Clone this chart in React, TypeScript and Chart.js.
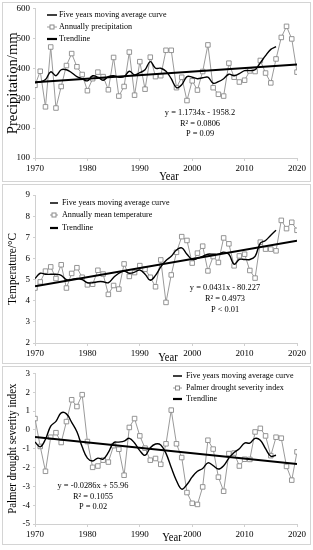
import React, { useEffect, useRef } from 'react';
import { Chart, registerables } from 'chart.js';

Chart.register(...registerables);

const FONT = '"Liberation Serif", "Times New Roman", serif';

const YEARS = [
  1970, 1971, 1972, 1973, 1974, 1975, 1976, 1977, 1978, 1979,
  1980, 1981, 1982, 1983, 1984, 1985, 1986, 1987, 1988, 1989,
  1990, 1991, 1992, 1993, 1994, 1995, 1996, 1997, 1998, 1999,
  2000, 2001, 2002, 2003, 2004, 2005, 2006, 2007, 2008, 2009,
  2010, 2011, 2012, 2013, 2014, 2015, 2016, 2017, 2018, 2019, 2020,
];
const TREND_YEARS = [1970, 2020];

const PRECIP = [
  343, 390, 271, 471, 267, 339, 409, 449, 405, 379,
  325, 365, 387, 372, 328, 436, 307, 339, 454, 310,
  422, 330, 437, 372, 375, 460, 460, 335, 370, 292,
  358, 327, 389, 478, 335, 313, 307, 417, 370, 354,
  360, 391, 389, 426, 384, 351, 431, 503, 540, 498, 387,
];
const PRECIP_MA = [
  352, 355, 362, 388, 375, 395, 395, 385, 372, 365,
  358, 375, 370, 360, 372, 375, 370, 372, 390, 378,
  385, 395, 422, 400, 400, 390, 365, 335, 345, 372,
  370, 365, 368, 370, 350, 355, 365, 380, 375, 382,
  392, 392, 395, 418, 442, 463, 472,
];
const PRECIP_TREND = [353.4, 412.1];

const TEMP = [
  4.6, 4.89, 5.4, 5.6, 5.05, 5.7, 4.6, 5.29, 5.56, 5.11,
  4.75, 4.78, 5.44, 5.26, 4.3, 4.72, 4.55, 5.74, 5.15, 5.33,
  5.66, 5.49, 5.11, 4.66, 5.93, 3.92, 5.22, 6.29, 7.03, 6.85,
  5.78, 6.25, 6.58, 5.41, 6.09, 5.81, 6.97, 6.69, 5.65, 6.12,
  6.2, 5.43, 5.07, 6.77, 6.44, 6.44, 6.36, 7.8, 7.41, 7.71, 7.33,
];
const TEMP_MA = [
  5.05, 5.3, 5.25, 5.25, 5.25, 5.2, 5.0, 5.0, 5.05, 5.0,
  4.85, 4.85, 4.9, 4.9, 4.85, 5.1, 5.3, 5.4, 5.3, 5.35,
  5.45, 5.25, 4.97, 5.2, 5.6, 5.9, 6.1, 6.4, 6.5, 6.2,
  5.95, 6.0, 6.1, 6.2, 6.2, 6.2, 6.3, 6.2, 5.72, 5.95,
  5.95, 5.95, 6.1, 6.72, 6.85, 7.1, 7.33,
];
const TEMP_TREND = [4.68, 6.835];

const PDSI = [
  0.6, -0.88, -2.2, -0.39, -0.15, -0.67, 0.44, 1.6, 1.24, 1.87,
  -0.62, -1.99, -1.92, -1.61, -1.71, -0.84, -1.03, -2.41, 0.13, 0.6,
  -0.32, -0.97, -1.61, -1.52, -1.83, -0.74, 1.05, -0.74, -1.47, -3.33,
  -3.9, -3.96, -3.03, -0.55, -1.02, -2.51, -3.26, -1.26, -1.23, -1.92,
  -1.56, -1.57, -0.11, 0.08, -0.32, -1.37, -0.39, -0.44, -1.94, -2.67, -1.17,
];
const PDSI_MA = [
  -0.65, -0.9, -0.5, 0.2, 0.45, 0.9, 0.85, 0.4, -0.1, -0.9,
  -1.5, -1.65, -1.5, -1.55, -1.2, -0.68, -0.65, -0.6, -0.45, -0.7,
  -1.1, -1.35, -0.95, -0.75, -0.8, -1.25, -2.0, -2.7, -3.15, -2.9,
  -2.5, -2.2, -2.05, -1.75, -1.9, -2.08, -1.9, -1.5, -1.2, -1.0,
  -0.7, -0.7, -0.45, -0.55, -1.0, -1.4, -1.35,
];
const PDSI_TREND = [-0.382, -1.812];

const X_TICKS = { min: 1970, max: 2020, step: 10 };

type PanelSpec = {
  top: number;
  height: number;
  plotTop: number;
  plotBottom: number;
  yMin: number;
  yMax: number;
  yStep: number;
  annual: number[];
  ma: number[];
  trend: number[];
  annualLabel: string;
  yTitle: string;
  yTitleSize: number;
  yTitleLen: number;
  legend: { x0: number; x1: number; tx: number; ys: number[] };
  eq: string[];
  eqPos: { cx: number; ys: number[] };
  border: { y0: number; y1: number };
  xTitle: { cx: number; cy: number };
};

const PANELS: PanelSpec[] = [
  {
    top: 0, height: 183, plotTop: 8, plotBottom: 158,
    yMin: 100, yMax: 600, yStep: 100,
    annual: PRECIP, ma: PRECIP_MA, trend: PRECIP_TREND,
    annualLabel: 'Annually precipitation',
    yTitle: 'Precipitation/mm', yTitleSize: 14, yTitleLen: 102,
    legend: { x0: 47, x1: 57, tx: 59, ys: [15, 27, 39] },
    eq: ['y = 1.1734x - 1958.2', 'R² = 0.0806', 'P = 0.09'],
    eqPos: { cx: 200, ys: [113, 123.5, 134] },
    border: { y0: 2.5, y1: 181.5 },
    xTitle: { cx: 169, cy: 177 },
  },
  {
    top: 183, height: 182, plotTop: 12, plotBottom: 160,
    yMin: 2, yMax: 9, yStep: 1,
    annual: TEMP, ma: TEMP_MA, trend: TEMP_TREND,
    annualLabel: 'Annually mean temperature',
    yTitle: 'Temperature/°C', yTitleSize: 12, yTitleLen: 72,
    legend: { x0: 50, x1: 58, tx: 62, ys: [20, 32, 45] },
    eq: ['y = 0.0431x - 80.227', 'R² = 0.4973', 'P < 0.01'],
    eqPos: { cx: 225, ys: [105, 116, 127] },
    border: { y0: 1.5, y1: 180.5 },
    xTitle: { cx: 168, cy: 175 },
  },
  {
    top: 365, height: 185, plotTop: 7, plotBottom: 159,
    yMin: -5, yMax: 3, yStep: 1,
    annual: PDSI, ma: PDSI_MA, trend: PDSI_TREND,
    annualLabel: 'Palmer drought severity index',
    yTitle: 'Palmer drought severity index', yTitleSize: 12, yTitleLen: 130,
    legend: { x0: 173, x1: 182, tx: 186, ys: [11, 23, 34] },
    eq: ['y = -0.0286x + 55.96', 'R² = 0.1055', 'P = 0.02'],
    eqPos: { cx: 93, ys: [121, 132, 142] },
    border: { y0: 1.5, y1: 179.5 },
    xTitle: { cx: 172, cy: 173 },
  },
];

const W = 313;
const PLOT_LEFT = 35;
const PLOT_RIGHT = 297;
const GRAY_LINE = '#9a9a9a';
const MARKER = '#8a8a8a';
const AXIS = '#d0d0d0';

function drawText(
  ctx: CanvasRenderingContext2D,
  s: string,
  x: number,
  y: number,
  size: number,
  opts: { align?: CanvasTextAlign; rotate?: boolean; width?: number; sx?: number } = {}
) {
  ctx.save();
  ctx.font = `${size}px ${FONT}`;
  ctx.fillStyle = '#000';
  ctx.textBaseline = 'middle';
  ctx.textAlign = opts.align ?? 'center';
  ctx.translate(x, y);
  if (opts.rotate) ctx.rotate(-Math.PI / 2);
  if (opts.width) {
    const w = ctx.measureText(s).width;
    ctx.scale(opts.width / w, 1);
  } else if (opts.sx) {
    ctx.scale(opts.sx, 1);
  }
  ctx.fillText(s, 0, 0);
  ctx.restore();
}

function makeOverlay(p: PanelSpec) {
  return {
    id: 'overlay',
    afterDraw(chart: Chart) {
      const ctx = chart.ctx;
      const area = chart.chartArea;
      ctx.save();
      ctx.strokeStyle = '#d4d4d4';
      ctx.lineWidth = 1;
      ctx.strokeRect(2.5, p.border.y0, 308, p.border.y1 - p.border.y0);
      ctx.restore();

      drawText(ctx, p.yTitle, 13, (area.top + area.bottom) / 2, p.yTitleSize, {
        rotate: true,
        width: p.yTitleLen,
      });
      drawText(ctx, 'Year', p.xTitle.cx, p.xTitle.cy, 12, { width: 19.5 });

      const L = p.legend;
      const labels = ['Five years moving average curve', p.annualLabel, 'Trendline'];
      labels.forEach((lab, i) => {
        const y = L.ys[i];
        ctx.save();
        if (i === 0) {
          ctx.strokeStyle = '#000';
          ctx.lineWidth = 1.5;
        } else if (i === 1) {
          ctx.strokeStyle = GRAY_LINE;
          ctx.lineWidth = 1;
        } else {
          ctx.strokeStyle = '#000';
          ctx.lineWidth = 2.2;
        }
        ctx.beginPath();
        ctx.moveTo(L.x0, y);
        ctx.lineTo(L.x1, y);
        ctx.stroke();
        if (i === 1) {
          const mx = (L.x0 + L.x1) / 2;
          ctx.fillStyle = '#fff';
          ctx.strokeStyle = MARKER;
          ctx.fillRect(mx - 2, y - 2, 4, 4);
          ctx.strokeRect(mx - 2, y - 2, 4, 4);
        }
        ctx.restore();
        drawText(ctx, lab, L.tx, y, 9, { align: 'left', sx: 0.9 });
      });

      p.eq.forEach((s, i) => {
        drawText(ctx, s, p.eqPos.cx, p.eqPos.ys[i], 9, { sx: 0.93 });
      });
    },
  };
}

function buildConfig(p: PanelSpec): any {
  const annualPts = p.annual.map((v, i) => ({ x: YEARS[i], y: v }));
  const maPts = p.ma.map((v, i) => ({ x: YEARS[i], y: v }));
  const trendPts = p.trend.map((v, i) => ({ x: TREND_YEARS[i], y: v }));
  const tickFont = { family: FONT, size: 9 };
  return {
    type: 'line',
    data: {
      datasets: [
        {
          label: 'Trendline',
          data: trendPts,
          borderColor: '#000',
          borderWidth: 2,
          pointRadius: 0,
          tension: 0,
          order: 0,
        },
        {
          label: 'Five years moving average curve',
          data: maPts,
          borderColor: '#000',
          borderWidth: 1.4,
          pointRadius: 0,
          tension: 0.4,
          order: 1,
        },
        {
          label: p.annualLabel,
          data: annualPts,
          borderColor: GRAY_LINE,
          borderWidth: 1,
          pointStyle: 'rect',
          pointRadius: 3.2,
          pointBackgroundColor: '#fff',
          pointBorderColor: MARKER,
          pointBorderWidth: 0.9,
          tension: 0,
          order: 2,
        },
      ],
    },
    options: {
      responsive: false,
      animation: false,
      events: [],
      layout: {
        padding: { left: 0, right: W - PLOT_RIGHT, top: p.plotTop, bottom: 0 },
      },
      plugins: {
        legend: { display: false },
        tooltip: { enabled: false },
        title: { display: false },
      },
      scales: {
        x: {
          type: 'linear',
          min: X_TICKS.min,
          max: X_TICKS.max,
          afterFit: (s: any) => {
            s.height = p.height - p.plotBottom;
          },
          ticks: {
            stepSize: X_TICKS.step,
            color: '#000',
            font: tickFont,
            padding: 2,
            maxRotation: 0,
            callback: (v: number) => String(v),
          },
          grid: { drawOnChartArea: false, drawTicks: true, tickLength: 3, color: AXIS },
          border: { display: true, color: AXIS, width: 1 },
        },
        y: {
          type: 'linear',
          min: p.yMin,
          max: p.yMax,
          afterFit: (s: any) => {
            s.width = PLOT_LEFT;
          },
          ticks: {
            stepSize: p.yStep,
            color: '#000',
            font: tickFont,
            padding: 3,
          },
          grid: { drawOnChartArea: false, drawTicks: true, tickLength: 2, color: AXIS },
          border: { display: true, color: AXIS, width: 1 },
        },
      },
    },
    plugins: [makeOverlay(p)],
  };
}

function Panel({ spec }: { spec: PanelSpec }) {
  const ref = useRef<HTMLCanvasElement>(null);
  useEffect(() => {
    if (!ref.current) return;
    const chart = new Chart(ref.current, buildConfig(spec));
    return () => chart.destroy();
  }, [spec]);
  return (
    <div style={{ position: 'absolute', left: 0, top: spec.top, width: W, height: spec.height }}>
      <canvas ref={ref} width={W} height={spec.height} style={{ display: 'block' }} />
    </div>
  );
}

export default function App() {
  useEffect(() => {
    document.body.style.margin = '0';
    document.body.style.background = '#fff';
  }, []);
  return (
    <div style={{ position: 'absolute', left: 0, top: 0, width: W, height: 550, background: '#fff' }}>
      {PANELS.map((p, i) => (
        <Panel key={i} spec={p} />
      ))}
    </div>
  );
}
